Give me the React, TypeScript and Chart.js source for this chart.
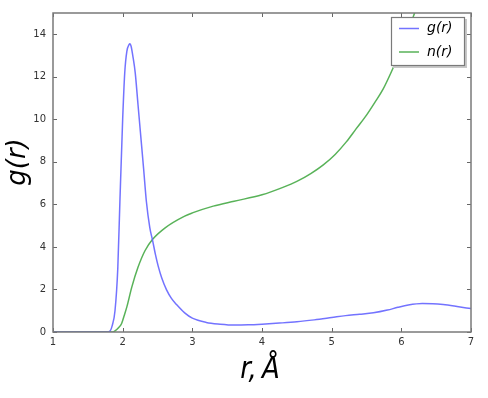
import React, { useEffect, useRef } from "react";
import { Chart, registerables } from "chart.js";

Chart.register(...registerables);

// g(r) radial distribution function
const gR = [1.0, 1.5, 1.78, 1.82, 1.85, 1.89, 1.93, 1.96, 2.0, 2.03, 2.06, 2.09, 2.105, 2.12, 2.15, 2.18, 2.22, 2.26, 2.30, 2.34, 2.39, 2.43, 2.47, 2.51, 2.56, 2.63, 2.70, 2.77, 2.89, 3.0, 3.2, 3.4, 3.6, 3.8, 4.0, 4.25, 4.5, 4.75, 5.0, 5.2, 5.4, 5.6, 5.8, 5.95, 6.1, 6.3, 6.45, 6.6, 6.8, 7.0];
const gVals = [0, 0, 0, 0.05, 0.3, 1.0, 3.0, 6.1, 10.0, 12.2, 13.2, 13.5, 13.55, 13.45, 12.9, 12.2, 10.7, 9.2, 7.7, 6.15, 4.9, 4.3, 3.65, 3.1, 2.55, 1.98, 1.58, 1.3, 0.9, 0.65, 0.45, 0.37, 0.33, 0.34, 0.37, 0.42, 0.48, 0.57, 0.68, 0.77, 0.83, 0.9, 1.03, 1.16, 1.27, 1.34, 1.33, 1.29, 1.2, 1.1];

// n(r) running coordination number
const nR = [1.0, 1.5, 1.86, 1.89, 1.94, 1.985, 2.02, 2.06, 2.13, 2.22, 2.32, 2.43, 2.61, 2.89, 3.0, 3.3, 3.6, 4.0, 4.3, 4.5, 4.7, 4.88, 5.05, 5.21, 5.35, 5.5, 5.62, 5.74, 5.88, 6.0, 6.1, 6.19, 6.3];
const nVals = [0, 0, 0, 0.05, 0.2, 0.4, 0.75, 1.18, 2.1, 3.04, 3.82, 4.36, 4.9, 5.45, 5.6, 5.92, 6.15, 6.45, 6.8, 7.08, 7.45, 7.86, 8.35, 8.94, 9.55, 10.2, 10.8, 11.43, 12.4, 13.3, 14.15, 15.0, 16.0];

const xTicks = [1, 2, 3, 4, 5, 6, 7];
const yTicks = [0, 2, 4, 6, 8, 10, 12, 14];
const seriesLabels = ["g(r)", "n(r)"];
const xTitle = "r,\u2009Å";
const yTitle = "g(r)";

const W = 488;
const H = 398;

const framePlugin = {
  id: "mplFrame",
  afterDatasetsDraw(chart: any) {
    const { ctx, chartArea: a, scales } = chart;
    ctx.save();
    // inward ticks on all four sides
    ctx.strokeStyle = "#666";
    ctx.lineWidth = 1;
    const tl = 4;
    for (const t of scales.x.ticks) {
      const px = Math.round(scales.x.getPixelForValue(t.value)) + 0.5;
      ctx.beginPath();
      ctx.moveTo(px, a.bottom);
      ctx.lineTo(px, a.bottom - tl);
      ctx.moveTo(px, a.top);
      ctx.lineTo(px, a.top + tl);
      ctx.stroke();
    }
    for (const t of scales.y.ticks) {
      const py = Math.round(scales.y.getPixelForValue(t.value)) + 0.5;
      ctx.beginPath();
      ctx.moveTo(a.left, py);
      ctx.lineTo(a.left + tl, py);
      ctx.moveTo(a.right, py);
      ctx.lineTo(a.right - tl, py);
      ctx.stroke();
    }
    // frame
    ctx.strokeStyle = "#7a7a7a";
    ctx.lineWidth = 1.5;
    ctx.strokeRect(a.left, a.top, a.right - a.left, a.bottom - a.top);

    // legend
    const lx = 391, ly = 17, lw = 74, lh = 49;
    ctx.fillStyle = "#c8c8c8";
    ctx.fillRect(lx + 2, ly + 2, lw, lh);
    ctx.fillStyle = "#ffffff";
    ctx.fillRect(lx, ly, lw, lh);
    ctx.strokeStyle = "#7a7a7a";
    ctx.lineWidth = 1.2;
    ctx.strokeRect(lx + 0.5, ly + 0.5, lw - 1, lh - 1);
    ctx.font = "italic 14px 'DejaVu Sans'";
    ctx.textBaseline = "middle";
    ctx.textAlign = "left";
    chart.data.datasets.forEach((ds: any, i: number) => {
      const yy = ly + 11.5 + i * 23.5;
      ctx.strokeStyle = ds.borderColor;
      ctx.lineWidth = 1.5;
      ctx.beginPath();
      ctx.moveTo(399, yy);
      ctx.lineTo(419, yy);
      ctx.stroke();
      ctx.fillStyle = "#000";
      ctx.fillText(ds.label, 427, yy);
    });

    // axis titles
    ctx.fillStyle = "#000";
    ctx.font = "italic 30px 'DejaVu Sans'";
    ctx.textAlign = "center";
    ctx.textBaseline = "alphabetic";
    ctx.save();
    ctx.translate(260, 378);
    ctx.scale(0.87, 1);
    ctx.fillText(xTitle, 0, 0);
    ctx.restore();

    ctx.save();
    ctx.translate(25, 162);
    ctx.rotate(-Math.PI / 2);
    ctx.font = "italic 26px 'DejaVu Sans'";
    ctx.textBaseline = "alphabetic";
    ctx.fillText(yTitle, 0, 0);
    ctx.restore();

    ctx.restore();
  },
};

export default function App() {
  const ref = useRef<HTMLCanvasElement | null>(null);
  useEffect(() => {
    if (!ref.current) return;
    const chart = new Chart(ref.current, {
      type: "line",
      data: {
        datasets: [
          {
            label: seriesLabels[0],
            data: gR.map((r, i) => ({ x: r, y: gVals[i] })),
            borderColor: "rgba(100,100,255,0.9)",
            borderWidth: 1.5,
            pointRadius: 0,
            cubicInterpolationMode: "monotone",
            fill: false,
          },
          {
            label: seriesLabels[1],
            data: nR.map((r, i) => ({ x: r, y: nVals[i] })),
            borderColor: "rgba(70,170,70,0.9)",
            borderWidth: 1.5,
            pointRadius: 0,
            cubicInterpolationMode: "monotone",
            fill: false,
          },
        ],
      },
      options: {
        responsive: false,
        animation: false,
        layout: { padding: { top: 10, right: 17, left: 0, bottom: 0 } },
        plugins: { legend: { display: false }, tooltip: { enabled: false } },
        scales: {
          x: {
            type: "linear",
            min: 1,
            max: 7,
            afterBuildTicks: (s: any) => {
              s.ticks = xTicks.map((v) => ({ value: v }));
            },
            afterFit: (s: any) => {
              s.height = 66;
            },
            ticks: {
              padding: 4,
              color: "#333",
              font: { family: "'DejaVu Sans'", size: 10 },
              maxRotation: 0,
            },
            grid: { display: false, drawTicks: false },
            border: { display: false },
          },
          y: {
            type: "linear",
            min: 0,
            max: 15,
            afterBuildTicks: (s: any) => {
              s.ticks = yTicks.map((v) => ({ value: v }));
            },
            afterFit: (s: any) => {
              s.width = 53;
            },
            ticks: {
              padding: 7,
              color: "#333",
              font: { family: "'DejaVu Sans'", size: 10 },
            },
            grid: { display: false, drawTicks: false },
            border: { display: false },
          },
        },
      },
      plugins: [framePlugin],
    } as any);
    return () => chart.destroy();
  }, []);
  return (
    <div style={{ position: "absolute", left: 0, top: 0, width: W, height: H, background: "#fff" }}>
      <canvas ref={ref} width={W} height={H} style={{ width: W, height: H, display: "block" }} />
    </div>
  );
}
